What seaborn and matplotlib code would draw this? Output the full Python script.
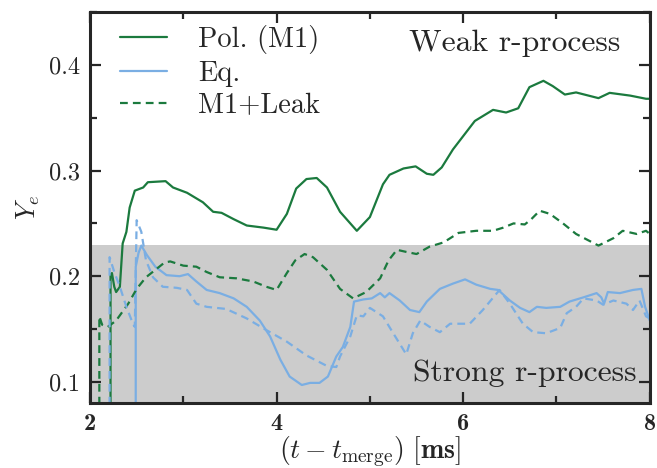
import numpy as np
import pandas as pd
import seaborn as sns
import matplotlib
matplotlib.use("Agg")
import matplotlib.pyplot as plt
from matplotlib.ticker import MultipleLocator, FormatStrFormatter

# Pol. (M1) -- solid green
t_pol = [2.22, 2.22, 2.235, 2.26, 2.28, 2.32, 2.35, 2.39, 2.425, 2.48, 2.57, 2.62, 2.81,
         2.89, 3.04, 3.21, 3.32, 3.41, 3.54, 3.68, 3.86, 4.0, 4.11, 4.21, 4.32, 4.43,
         4.54, 4.68, 4.86, 5.0, 5.14, 5.21, 5.36, 5.49, 5.61, 5.68, 5.77, 5.89, 6.125,
         6.32, 6.46, 6.59, 6.71, 6.86, 6.96, 7.09, 7.21, 7.45, 7.57, 7.79, 7.96, 8.0]
ye_pol = [0.0, 0.201, 0.203, 0.19, 0.185, 0.19, 0.231, 0.242, 0.265, 0.281, 0.284, 0.289, 0.29,
          0.284, 0.279, 0.270, 0.261, 0.260, 0.254, 0.248, 0.246, 0.244, 0.259, 0.283, 0.292, 0.293,
          0.284, 0.261, 0.243, 0.256, 0.287, 0.296, 0.302, 0.304, 0.297, 0.296, 0.303, 0.320, 0.347,
          0.3575, 0.355, 0.359, 0.379, 0.385, 0.380, 0.372, 0.374, 0.3686, 0.3736, 0.371, 0.368, 0.368]

# Eq. -- solid blue
t_eq = [2.49, 2.49, 2.52, 2.55, 2.61, 2.70, 2.82, 2.96, 3.05, 3.14, 3.25, 3.39, 3.54, 3.68,
        3.82, 3.93, 4.04, 4.14, 4.27, 4.36, 4.46, 4.55, 4.64, 4.71, 4.79, 4.83, 4.93, 5.02,
        5.11, 5.16, 5.21, 5.32, 5.43, 5.53, 5.61, 5.75, 5.89, 6.02, 6.14, 6.29, 6.375, 6.5,
        6.61, 6.71, 6.79, 6.89, 7.04, 7.14, 7.29, 7.43, 7.48, 7.51, 7.55, 7.68, 7.82, 7.91,
        7.95, 8.0]
ye_eq = [0.0, 0.209, 0.222, 0.229, 0.220, 0.209, 0.201, 0.200, 0.202, 0.195, 0.187, 0.184, 0.179, 0.171,
         0.158, 0.143, 0.121, 0.105, 0.097, 0.099, 0.099, 0.105, 0.124, 0.133, 0.152, 0.176, 0.178, 0.179,
         0.184, 0.180, 0.184, 0.177, 0.168, 0.166, 0.176, 0.188, 0.193, 0.197, 0.192, 0.188, 0.187, 0.177,
         0.170, 0.166, 0.171, 0.170, 0.171, 0.176, 0.180, 0.184, 0.180, 0.174, 0.185, 0.184, 0.187, 0.188,
         0.171, 0.158]

# M1+Leak, polar -- dashed green
t_leak = [2.10, 2.10, 2.13, 2.19, 2.28, 2.41, 2.50, 2.60, 2.80, 2.86, 3.0, 3.14, 3.25, 3.39,
          3.57, 3.75, 3.89, 4.0, 4.11, 4.2, 4.30, 4.39, 4.54, 4.68, 4.82, 4.96, 5.11, 5.20,
          5.29, 5.39, 5.50, 5.64, 5.79, 5.95, 6.14, 6.32, 6.43, 6.54, 6.66, 6.73, 6.82, 6.93,
          7.07, 7.21, 7.45, 7.61, 7.71, 7.86, 7.96, 8.0]
ye_leak = [0.0, 0.162, 0.154, 0.152, 0.158, 0.174, 0.188, 0.199, 0.213, 0.214, 0.210, 0.209, 0.204, 0.199,
           0.198, 0.195, 0.190, 0.187, 0.203, 0.215, 0.221, 0.218, 0.206, 0.188, 0.179, 0.185, 0.198, 0.215,
           0.225, 0.223, 0.221, 0.228, 0.232, 0.241, 0.243, 0.243, 0.246, 0.250, 0.249, 0.254, 0.262, 0.259,
           0.250, 0.240, 0.229, 0.236, 0.243, 0.240, 0.243, 0.240]

# M1+Leak, equatorial -- dashed blue
t_leak_eq = [2.21, 2.21, 2.26, 2.32, 2.39, 2.46, 2.48, 2.50, 2.55, 2.60, 2.675, 2.78, 2.93, 3.04,
             3.14, 3.25, 3.46, 3.68, 3.89, 4.11, 4.32, 4.54, 4.64, 4.68, 4.79, 4.86, 4.93, 5.0,
             5.14, 5.25, 5.39, 5.46, 5.54, 5.64, 5.75, 5.86, 6.07, 6.21, 6.39, 6.5, 6.64, 6.75,
             6.89, 7.04, 7.11, 7.21, 7.29, 7.43, 7.50, 7.61, 7.75, 7.82, 7.89, 7.96, 8.0]
ye_leak_eq = [0.0, 0.218, 0.204, 0.190, 0.171, 0.155, 0.152, 0.253, 0.242, 0.215, 0.199, 0.190, 0.189, 0.187,
              0.174, 0.171, 0.169, 0.160, 0.149, 0.138, 0.125, 0.115, 0.114, 0.124, 0.143, 0.163, 0.162, 0.170,
              0.162, 0.146, 0.126, 0.146, 0.158, 0.152, 0.147, 0.155, 0.155, 0.168, 0.187, 0.174, 0.155, 0.147,
              0.146, 0.151, 0.165, 0.171, 0.179, 0.177, 0.173, 0.177, 0.174, 0.168, 0.177, 0.162, 0.160]

green = "#1b7a3e"
blue = "#7aaee3"
dash = (0, (3.5, 2.3))

sns.set_style("ticks")
plt.rcParams["font.family"] = "serif"
plt.rcParams["font.serif"] = ["cmr10"]
plt.rcParams["mathtext.fontset"] = "cm"
plt.rcParams["axes.formatter.use_mathtext"] = True
plt.rcParams["axes.unicode_minus"] = False

fig = plt.figure(figsize=(6.57, 4.68), dpi=100)
ax = fig.add_axes([0.137, 0.139, 0.852, 0.835])

ax.axhspan(0.0, 0.23, color="#cccccc", lw=0, zorder=0)

sns.lineplot(x=t_pol, y=ye_pol, ax=ax, color=green, lw=1.6, sort=False, estimator=None,
             label="Pol. (M1)")
sns.lineplot(x=t_eq, y=ye_eq, ax=ax, color=blue, lw=1.6, sort=False, estimator=None,
             label="Eq.")
sns.lineplot(x=t_leak, y=ye_leak, ax=ax, color=green, lw=1.6, sort=False, estimator=None,
             label="M1+Leak", linestyle=dash)
sns.lineplot(x=t_leak_eq, y=ye_leak_eq, ax=ax, color=blue, lw=1.6, sort=False, estimator=None,
             linestyle=dash, legend=False)

ax.set_xlim(2, 8)
ax.set_ylim(0.08, 0.45)
ax.xaxis.set_major_locator(MultipleLocator(2))
ax.xaxis.set_minor_locator(MultipleLocator(1))
ax.xaxis.set_major_formatter(FormatStrFormatter("%d"))
ax.yaxis.set_major_locator(MultipleLocator(0.1))
ax.yaxis.set_minor_locator(MultipleLocator(0.05))
ax.yaxis.set_major_formatter(FormatStrFormatter("%.1f"))
ax.tick_params(which="both", direction="in", top=True, right=True, width=1.6, labelsize=17.5)
ax.tick_params(which="major", length=8, pad=7)
ax.tick_params(which="minor", length=5)
for lbl in ax.get_xticklabels():
    lbl.set_fontfamily("cmb10")
for sp in ax.spines.values():
    sp.set_linewidth(2.2)

ax.set_xlabel(r"$(t-t_{\rm merge})\ \mathbf{[ms]}$", fontsize=20, labelpad=0)
ax.set_ylabel(r"$Y_e$", fontsize=19, labelpad=5)

ax.text(7.68, 0.421, "Weak r-process", fontsize=22.8, ha="right", va="center")
ax.text(7.86, 0.108, "Strong r-process", fontsize=22.8, ha="right", va="center")

leg = ax.legend(loc="upper left", bbox_to_anchor=(0.03, 1.0), frameon=False, fontsize=20.5,
                handlelength=1.65, handletextpad=1.1, labelspacing=0.22,
                borderaxespad=0.15, borderpad=0.3)

fig.savefig("out.png", dpi=100)
